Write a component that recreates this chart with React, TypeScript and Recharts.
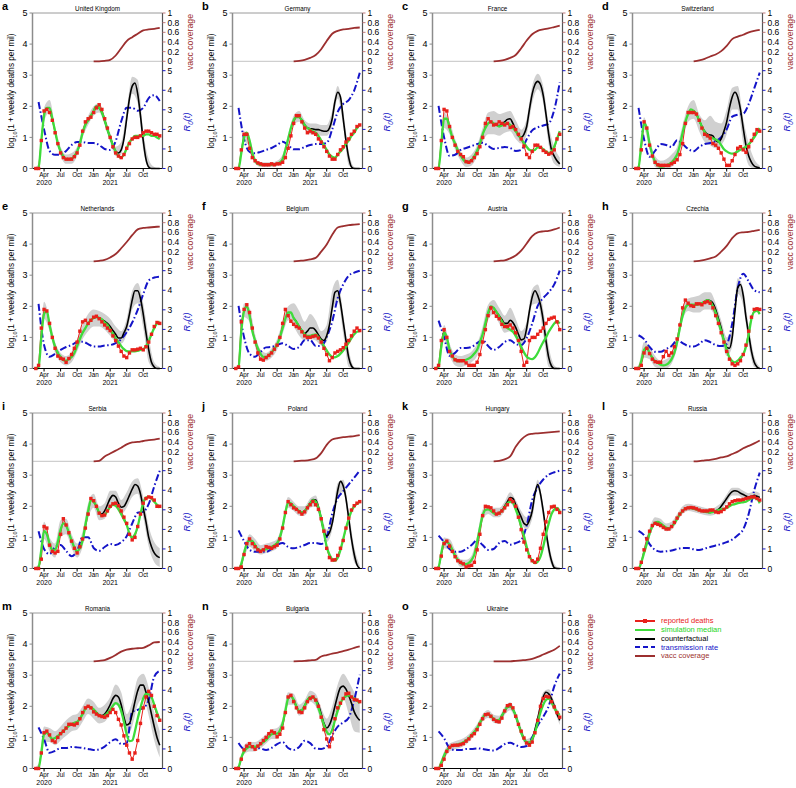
import {
  ComposedChart,
  Line,
  Area,
  XAxis,
  YAxis,
  ReferenceLine,
} from 'recharts';

const FONT = '"Liberation Sans", Arial, Helvetica, sans-serif';
const RED = '#e8211b';
const GREEN = '#3ddc3a';
const BLUE = '#1414c8';
const BROWN = '#9c2f2f';
const BAND = '#d0d0d0';

// x positions, in months since 1 Jan 2020
const HALF_X = [1.5, 2, 2.5, 3, 3.5, 4, 4.5, 5, 5.5, 6, 6.5, 7, 7.5, 8, 8.5, 9, 9.5, 10, 10.5, 11, 11.5, 12, 12.5, 13, 13.5, 14, 14.5, 15, 15.5, 16, 16.5, 17, 17.5, 18, 18.5, 19, 19.5, 20, 20.5, 21, 21.5, 22, 22.5, 23, 23.5, 24];
const MONTH_X = [1, 2, 3, 4, 5, 6, 7, 8, 9, 10, 11, 12, 13, 14, 15, 16, 17, 18, 19, 20, 21, 22, 23, 24];
const R0_X = [2, 3, 4, 5, 6, 7, 8, 9, 10, 11, 12, 13, 14, 15, 16, 17, 18, 19, 20, 21, 22, 23, 24];
const CF_X = [12, 12.5, 13, 13.5, 14, 14.5, 15, 15.5, 16, 16.5, 17, 17.5, 18, 18.5, 19, 19.5, 20, 20.5, 21, 21.5, 22, 22.5, 23, 23.5, 24];
const VACC_X = [12, 13, 14, 15, 16, 17, 18, 19, 20, 21, 22, 23, 24];

const MONTH_TICKS = [3, 6, 9, 12, 15, 18, 21];
const MONTH_LABELS = ['Apr', 'Jul', 'Oct', 'Jan', 'Apr', 'Jul', 'Oct'];
const YEAR_TICKS = [3, 15];
const YEAR_LABELS = ['2020', '2021'];
const DEATH_TICKS = [0, 1, 2, 3, 4, 5];
const R0_TICKS = [0, 1, 2, 3, 4, 5];
const VACC_TICKS = [0, 0.2, 0.4, 0.6, 0.8, 1];

// United Kingdom
const UK_DEATHS = [0, 0, 0.9, 1.85, 1.9, 1.8, 1.55, 1.15, 0.8, 0.5, 0.35, 0.3, 0.3, 0.3, 0.38, 0.5, 0.75, 1.2, 1.5, 1.6, 1.65, 1.8, 1.95, 2.05, 1.9, 1.6, 1.3, 1.0, 0.7, 0.5, 0.4, 0.35, 0.45, 0.65, 0.8, 0.95, 1.0, 1.0, 1.05, 1.15, 1.2, 1.2, 1.15, 1.1, 1.1, 1.05];
const UK_MEDIAN = [0, 0.02, 0.9, 1.7, 1.95, 1.95, 1.6, 1.2, 0.8, 0.55, 0.4, 0.3, 0.3, 0.32, 0.4, 0.55, 0.8, 1.15, 1.4, 1.55, 1.7, 1.85, 2.0, 1.95, 1.8, 1.55, 1.25, 1.0, 0.75, 0.55, 0.4, 0.35, 0.45, 0.65, 0.85, 0.95, 1.05, 1.05, 1.05, 1.05, 1.1, 1.1, 1.05, 1.05, 1.0, 0.95];
const UK_CF = [1.85, 2.0, 1.95, 1.8, 1.55, 1.25, 1.0, 0.75, 0.55, 0.5, 0.6, 0.95, 1.6, 2.25, 2.65, 2.75, 2.4, 1.7, 0.9, 0.3, 0.05, 0, 0, 0, 0];
const UK_LO = [0, 0, 1.5, 1.8, 1.05, 0.4, 0.15, 0.15, 0.4, 1.0, 1.4, 1.7, 1.8, 1.4, 0.85, 0.4, 0.45, 1.4, 2.4, 2.1, 0.6, 0, 0, 0];
const UK_HI = [0, 0.15, 1.95, 2.2, 1.35, 0.7, 0.45, 0.5, 0.7, 1.3, 1.7, 2.0, 2.1, 1.7, 1.15, 0.7, 0.85, 1.85, 2.95, 2.85, 1.2, 0.3, 0.05, 0];
const UK_R0 = [3.4, 2.0, 0.9, 0.7, 0.7, 0.9, 1.2, 1.35, 1.35, 1.3, 1.3, 1.2, 1.0, 0.95, 1.4, 2.4, 3.1, 3.1, 2.95, 3.1, 3.6, 3.75, 3.45];
const UK_VACC = [0, 0, 0.01, 0.03, 0.12, 0.27, 0.42, 0.5, 0.57, 0.64, 0.66, 0.67, 0.69];

// Germany
const DE_DEATHS = [0, 0, 0.6, 1.1, 1.1, 0.65, 0.35, 0.25, 0.18, 0.15, 0.12, 0.12, 0.12, 0.15, 0.12, 0.15, 0.15, 0.2, 0.35, 0.65, 1.05, 1.45, 1.7, 1.7, 1.5, 1.3, 1.15, 1.2, 1.15, 1.1, 0.95, 0.85, 0.7, 0.55, 0.4, 0.3, 0.3, 0.45, 0.6, 0.7, 0.85, 0.95, 1.1, 1.2, 1.35, 1.4];
const DE_MEDIAN = [0, 0, 0.5, 1.0, 1.15, 0.9, 0.5, 0.25, 0.15, 0.12, 0.12, 0.12, 0.12, 0.12, 0.13, 0.15, 0.2, 0.3, 0.6, 0.95, 1.3, 1.55, 1.65, 1.65, 1.55, 1.4, 1.3, 1.25, 1.2, 1.15, 1.05, 0.9, 0.75, 0.6, 0.45, 0.38, 0.35, 0.45, 0.55, 0.65, 0.8, 0.9, 1.05, 1.15, 1.3, 1.4];
const DE_CF = [1.55, 1.65, 1.65, 1.55, 1.4, 1.3, 1.28, 1.27, 1.25, 1.25, 1.22, 1.2, 1.2, 1.3, 1.6, 2.15, 2.45, 2.3, 1.6, 0.9, 0.35, 0.05, 0, 0, 0];
const DE_LO = [0, 0, 0.85, 0.7, 0.15, 0.05, 0.05, 0.05, 0.08, 0.2, 0.8, 1.4, 1.5, 1.25, 1.1, 1.1, 1.05, 1.05, 1.4, 2.25, 1.35, 0.1, 0, 0];
const DE_HI = [0, 0.05, 1.2, 1.0, 0.35, 0.2, 0.2, 0.2, 0.25, 0.45, 1.1, 1.7, 1.85, 1.55, 1.45, 1.45, 1.4, 1.4, 1.85, 2.65, 1.85, 0.55, 0.05, 0];
const DE_R0 = [3.1, 1.5, 0.85, 0.78, 0.85, 0.95, 1.05, 1.2, 1.37, 1.2, 0.98, 0.98, 1.1, 1.2, 1.25, 1.25, 1.3, 2.0, 2.9, 3.3, 3.5, 4.0, 4.9];
const DE_VACC = [0, 0.01, 0.03, 0.07, 0.13, 0.25, 0.42, 0.57, 0.63, 0.66, 0.67, 0.69, 0.7];

// France
const FR_DEATHS = [0, 0, 0.9, 1.9, 1.85, 1.35, 1.0, 0.75, 0.55, 0.45, 0.38, 0.22, 0.2, 0.25, 0.35, 0.48, 0.7, 1.0, 1.45, 1.6, 1.5, 1.4, 1.42, 1.5, 1.45, 1.4, 1.45, 1.32, 1.35, 1.25, 1.1, 0.95, 0.72, 0.45, 0.35, 0.55, 0.75, 0.75, 0.68, 0.58, 0.52, 0.46, 0.5, 0.6, 0.95, 1.1];
const FR_MEDIAN = [0, 0, 0.8, 1.6, 1.6, 1.3, 1.0, 0.8, 0.58, 0.42, 0.28, 0.2, 0.22, 0.28, 0.4, 0.57, 0.8, 1.1, 1.3, 1.45, 1.5, 1.45, 1.4, 1.35, 1.38, 1.45, 1.45, 1.4, 1.3, 1.2, 1.08, 0.95, 0.82, 0.7, 0.6, 0.58, 0.6, 0.68, 0.68, 0.62, 0.55, 0.5, 0.55, 0.7, 0.95, 1.2];
const FR_CF = [1.45, 1.4, 1.38, 1.42, 1.5, 1.58, 1.6, 1.45, 1.25, 1.05, 1.0, 1.1, 1.35, 1.9, 2.4, 2.7, 2.8, 2.7, 2.35, 1.75, 1.1, 0.6, 0.4, 0.25, 0.15];
const FR_LO = [0, 0, 1.3, 1.1, 0.6, 0.25, 0.05, 0.1, 0.4, 0.85, 1.1, 1.1, 1.05, 1.15, 1.2, 0.95, 0.8, 1.1, 2.1, 2.55, 2.1, 0.75, 0.15, 0.05];
const FR_HI = [0, 0.1, 1.8, 1.5, 0.95, 0.55, 0.35, 0.45, 0.75, 1.3, 1.8, 1.85, 1.75, 1.8, 1.85, 1.55, 1.25, 1.6, 2.65, 3.05, 2.65, 1.4, 0.7, 0.35];
const FR_R0 = [3.2, 1.6, 0.65, 0.7, 0.95, 1.05, 1.15, 1.25, 1.32, 1.15, 1.0, 1.05, 1.1, 1.05, 0.9, 0.95, 1.5, 1.95, 2.1, 2.2, 2.3, 3.0, 4.4];
const FR_VACC = [0, 0.01, 0.03, 0.07, 0.13, 0.27, 0.43, 0.56, 0.63, 0.66, 0.68, 0.71, 0.74];

// Switzerland
const CH_DEATHS = [0, 0, 0.6, 1.5, 1.3, 0.75, 0.4, 0.2, 0.12, 0.1, 0.1, 0.1, 0.1, 0.15, 0.2, 0.28, 0.45, 0.8, 1.45, 1.8, 1.8, 1.8, 1.75, 1.55, 1.3, 1.1, 1.05, 0.98, 0.8, 0.75, 0.65, 0.5, 0.3, 0.1, 0.1, 0.25, 0.45, 0.65, 0.7, 0.6, 0.52, 0.7, 0.9, 1.1, 1.25, 1.2];
const CH_MEDIAN = [0, 0.05, 0.8, 1.45, 1.3, 0.8, 0.45, 0.22, 0.1, 0.06, 0.07, 0.1, 0.14, 0.2, 0.3, 0.45, 0.75, 1.15, 1.5, 1.75, 1.9, 1.85, 1.75, 1.55, 1.35, 1.18, 1.05, 1.0, 0.97, 0.93, 0.88, 0.75, 0.62, 0.55, 0.5, 0.48, 0.5, 0.55, 0.6, 0.65, 0.7, 0.78, 0.88, 1.0, 1.15, 1.3];
const CH_CF = [1.85, 1.75, 1.55, 1.35, 1.2, 1.1, 1.08, 1.05, 0.9, 0.85, 0.95, 1.2, 1.5, 1.95, 2.3, 2.45, 2.3, 1.9, 1.3, 0.75, 0.4, 0.2, 0.08, 0.04, 0.02];
const CH_LO = [0, 0, 1.25, 0.6, 0.05, 0, 0, 0.05, 0.3, 0.9, 1.5, 1.6, 1.2, 0.85, 0.75, 0.65, 0.75, 1.1, 1.9, 1.9, 0.8, 0.1, 0, 0];
const CH_HI = [0, 0.1, 1.65, 0.95, 0.4, 0.25, 0.3, 0.45, 0.7, 1.4, 2.0, 2.2, 1.75, 1.55, 1.7, 1.5, 1.45, 1.9, 2.6, 2.65, 1.6, 0.8, 0.3, 0.1];
const CH_R0 = [3.1, 1.5, 0.6, 0.9, 1.25, 1.2, 1.1, 1.45, 1.25, 1.0, 0.88, 1.1, 1.25, 1.3, 1.4, 1.6, 2.0, 2.65, 2.75, 2.8, 3.3, 4.1, 4.9];
const CH_VACC = [0, 0.02, 0.05, 0.1, 0.14, 0.21, 0.32, 0.46, 0.51, 0.55, 0.6, 0.63, 0.65];

// Netherlands
const NL_DEATHS = [0, 0.1, 1.3, 1.9, 1.85, 1.45, 1.0, 0.65, 0.4, 0.33, 0.3, 0.2, 0.32, 0.45, 0.65, 0.85, 1.2, 1.5, 1.55, 1.45, 1.55, 1.65, 1.68, 1.6, 1.5, 1.4, 1.3, 1.22, 1.05, 0.9, 0.72, 0.55, 0.4, 0.35, 0.5, 0.6, 0.6, 0.62, 0.65, 0.6, 0.7, 0.85, 1.1, 1.35, 1.48, 1.45];
const NL_MEDIAN = [0, 0.02, 1.0, 1.75, 1.85, 1.4, 1.0, 0.7, 0.5, 0.38, 0.27, 0.25, 0.3, 0.37, 0.5, 0.72, 0.95, 1.15, 1.3, 1.45, 1.55, 1.62, 1.65, 1.63, 1.58, 1.48, 1.4, 1.25, 1.12, 0.98, 0.85, 0.72, 0.62, 0.56, 0.55, 0.55, 0.55, 0.57, 0.6, 0.62, 0.72, 0.88, 1.1, 1.3, 1.45, 1.5];
const NL_CF = [1.62, 1.65, 1.63, 1.58, 1.52, 1.45, 1.35, 1.22, 1.1, 0.98, 0.98, 1.15, 1.35, 1.75, 2.2, 2.5, 2.5, 2.25, 1.75, 1.15, 0.6, 0.2, 0.05, 0, 0];
const NL_LO = [0, 0, 1.6, 1.2, 0.5, 0.2, 0.1, 0.2, 0.55, 0.95, 1.2, 1.35, 1.35, 1.25, 1.05, 0.85, 0.8, 1.1, 1.9, 2.1, 1.3, 0.2, 0, 0];
const NL_HI = [0, 0.1, 2.15, 1.6, 0.85, 0.5, 0.4, 0.55, 0.95, 1.4, 1.75, 1.9, 1.85, 1.75, 1.6, 1.35, 1.2, 1.6, 2.5, 2.75, 2.1, 1.0, 0.2, 0.05];
const NL_R0 = [3.3, 1.2, 0.6, 0.75, 0.95, 1.1, 1.2, 1.35, 1.37, 1.25, 1.12, 1.12, 1.18, 1.2, 1.3, 1.5, 1.85, 2.35, 3.0, 3.8, 4.5, 4.65, 4.7];
const NL_VACC = [0, 0.01, 0.03, 0.08, 0.15, 0.27, 0.4, 0.54, 0.66, 0.69, 0.7, 0.71, 0.72];

// Belgium
const BE_DEATHS = [0, 0.05, 1.5, 1.9, 2.05, 1.8, 1.3, 0.85, 0.5, 0.3, 0.27, 0.35, 0.42, 0.5, 0.62, 0.75, 1.0, 1.45, 1.9, 1.7, 1.52, 1.42, 1.35, 1.3, 1.18, 1.05, 1.0, 1.0, 1.03, 1.05, 0.98, 0.85, 0.65, 0.45, 0.25, 0.35, 0.5, 0.55, 0.6, 0.67, 0.78, 0.9, 1.05, 1.2, 1.3, 1.22];
const BE_MEDIAN = [0, 0.05, 1.2, 1.85, 2.0, 1.7, 1.2, 0.9, 0.65, 0.47, 0.37, 0.37, 0.43, 0.52, 0.63, 0.78, 1.0, 1.3, 1.6, 1.8, 1.8, 1.62, 1.5, 1.35, 1.22, 1.1, 1.05, 1.05, 1.08, 1.1, 1.0, 0.88, 0.72, 0.58, 0.45, 0.37, 0.36, 0.4, 0.48, 0.58, 0.7, 0.83, 0.98, 1.1, 1.18, 1.2];
const BE_CF = [1.62, 1.5, 1.35, 1.22, 1.12, 1.2, 1.3, 1.3, 1.22, 1.08, 0.95, 0.9, 1.05, 1.4, 1.95, 2.45, 2.5, 2.1, 1.5, 0.9, 0.35, 0.08, 0, 0, 0];
const BE_LO = [0, 0, 1.65, 1.5, 0.7, 0.3, 0.25, 0.35, 0.6, 1.1, 1.55, 1.35, 1.05, 0.9, 0.95, 0.9, 0.75, 0.85, 1.8, 2.2, 1.1, 0.05, 0, 0];
const BE_HI = [0, 0.15, 2.1, 1.95, 1.1, 0.6, 0.5, 0.65, 0.95, 1.5, 2.0, 2.1, 1.85, 1.5, 1.75, 1.55, 1.2, 1.4, 2.5, 2.85, 1.75, 0.6, 0.05, 0];
const BE_R0 = [3.2, 1.6, 0.75, 0.6, 0.85, 1.08, 1.1, 1.2, 1.29, 1.15, 1.0, 1.1, 1.45, 1.45, 1.15, 1.15, 1.6, 2.4, 3.6, 4.3, 4.75, 4.9, 5.0];
const BE_VACC = [0, 0.01, 0.02, 0.04, 0.07, 0.2, 0.35, 0.55, 0.7, 0.73, 0.75, 0.76, 0.77];

// Austria
const AT_DEATHS = [0, 0.1, 0.9, 1.25, 1.0, 0.55, 0.4, 0.28, 0.25, 0.25, 0.25, 0.18, 0.1, 0.1, 0.1, 0.2, 0.45, 0.85, 1.25, 1.7, 1.95, 1.8, 1.68, 1.6, 1.42, 1.35, 1.35, 1.4, 1.3, 1.15, 0.9, 0.55, 0.1, 0.2, 0.9, 1.0, 1.0, 1.1, 1.2, 1.3, 1.45, 1.58, 1.62, 1.65, 1.5, 1.25];
const AT_MEDIAN = [0, 0.05, 0.7, 1.15, 1.0, 0.6, 0.4, 0.28, 0.24, 0.24, 0.25, 0.28, 0.32, 0.38, 0.48, 0.6, 0.85, 1.1, 1.45, 1.8, 2.0, 1.95, 1.82, 1.68, 1.52, 1.38, 1.3, 1.25, 1.18, 1.05, 0.88, 0.7, 0.52, 0.38, 0.32, 0.3, 0.36, 0.5, 0.68, 0.85, 1.0, 1.18, 1.32, 1.45, 1.52, 1.45];
const AT_CF = [1.95, 1.82, 1.7, 1.58, 1.45, 1.45, 1.55, 1.48, 1.32, 1.1, 0.92, 0.95, 1.3, 1.85, 2.3, 2.5, 2.35, 2.05, 1.55, 0.9, 0.35, 0.08, 0, 0, 0];
const AT_LO = [0, 0, 0.9, 0.4, 0.1, 0.05, 0.1, 0.2, 0.4, 0.9, 1.55, 1.75, 1.45, 1.15, 1.2, 1.05, 0.7, 1.0, 2.05, 2.1, 1.1, 0.05, 0, 0];
const AT_HI = [0, 0.15, 1.4, 0.8, 0.45, 0.4, 0.45, 0.55, 0.8, 1.35, 2.05, 2.2, 1.95, 1.7, 1.95, 1.6, 1.2, 1.5, 2.55, 2.7, 1.9, 0.7, 0.1, 0];
const AT_R0 = [2.45, 1.6, 0.65, 0.8, 1.05, 1.05, 1.1, 1.3, 1.45, 1.15, 0.95, 1.1, 1.35, 1.45, 1.25, 1.2, 1.55, 2.3, 3.2, 3.6, 3.9, 4.3, 5.0];
const AT_VACC = [0, 0.01, 0.02, 0.06, 0.12, 0.22, 0.37, 0.52, 0.6, 0.62, 0.63, 0.66, 0.7];

// Czechia
const CZ_DEATHS = [0, 0, 0.1, 0.5, 0.65, 0.48, 0.3, 0.22, 0.2, 0.2, 0.38, 0.55, 0.42, 0.5, 0.7, 0.95, 1.4, 1.95, 2.2, 2.1, 2.02, 2.0, 2.08, 2.08, 2.05, 2.12, 2.15, 2.1, 1.95, 1.7, 1.45, 1.15, 0.85, 0.55, 0.3, 0.15, 0.1, 0.15, 0.25, 0.45, 0.75, 1.2, 1.65, 1.9, 1.92, 1.9];
const CZ_MEDIAN = [0, 0.02, 0.25, 0.6, 0.68, 0.5, 0.35, 0.24, 0.18, 0.12, 0.1, 0.12, 0.18, 0.3, 0.5, 0.85, 1.3, 1.7, 1.95, 2.05, 2.05, 2.05, 2.05, 2.07, 2.1, 2.15, 2.2, 2.15, 2.0, 1.8, 1.5, 1.2, 0.9, 0.6, 0.35, 0.24, 0.2, 0.25, 0.35, 0.45, 0.7, 1.1, 1.6, 1.82, 1.85, 1.75];
const CZ_CF = [2.05, 2.05, 2.07, 2.1, 2.15, 2.2, 2.18, 2.1, 1.9, 1.6, 1.3, 0.9, 0.68, 0.65, 1.0, 1.85, 2.6, 2.7, 2.35, 1.65, 1.1, 0.55, 0.2, 0.05, 0];
const CZ_LO = [0, 0, 0.35, 0.3, 0.05, 0, 0, 0.15, 0.65, 1.55, 1.85, 1.8, 1.8, 1.9, 1.9, 1.6, 1.0, 0.4, 0.7, 2.4, 2.0, 0.75, 0.05, 0];
const CZ_HI = [0, 0.1, 0.85, 0.7, 0.4, 0.25, 0.3, 0.45, 1.05, 1.95, 2.25, 2.3, 2.35, 2.45, 2.45, 2.1, 1.55, 1.0, 1.3, 2.9, 2.55, 1.35, 0.4, 0.05];
const CZ_R0 = [1.7, 1.5, 1.1, 0.85, 0.85, 1.0, 1.15, 1.45, 1.3, 1.15, 1.12, 1.25, 1.45, 1.35, 1.2, 1.15, 1.25, 2.3, 4.1, 4.85, 4.45, 4.0, 3.9];
const CZ_VACC = [0, 0.01, 0.03, 0.06, 0.1, 0.2, 0.32, 0.48, 0.58, 0.6, 0.61, 0.63, 0.65];

// Serbia
const RS_DEATHS = [0, 0, 0.3, 1.35, 1.3, 0.75, 0.55, 0.5, 0.55, 1.1, 1.6, 1.4, 1.15, 0.88, 0.65, 0.5, 0.7, 0.95, 1.3, 1.75, 2.25, 2.18, 2.0, 1.78, 1.7, 1.72, 1.85, 2.0, 2.08, 2.1, 2.02, 1.85, 1.65, 1.45, 1.1, 0.92, 1.0, 1.35, 1.75, 2.1, 2.25, 2.3, 2.28, 2.2, 2.0, 2.0];
const RS_MEDIAN = [0, 0.05, 0.6, 1.2, 1.1, 0.8, 0.6, 0.6, 0.85, 1.25, 1.45, 1.38, 1.15, 0.9, 0.68, 0.56, 0.65, 0.9, 1.4, 1.85, 2.2, 2.15, 2.0, 1.8, 1.7, 1.72, 1.85, 1.98, 2.05, 2.02, 1.9, 1.75, 1.58, 1.4, 1.12, 1.0, 1.1, 1.35, 1.75, 2.1, 2.28, 2.3, 2.25, 2.15, 2.05, 1.95];
const RS_CF = [2.15, 2.0, 1.8, 1.75, 1.85, 2.05, 2.25, 2.35, 2.3, 2.1, 1.97, 2.0, 2.15, 2.35, 2.55, 2.7, 2.65, 2.4, 1.95, 1.5, 1.0, 0.7, 0.5, 0.4, 0.35];
const RS_LO = [0, 0, 0.95, 0.55, 0.35, 1.0, 1.1, 0.65, 0.35, 0.7, 1.6, 1.95, 1.55, 1.6, 2.05, 2.05, 1.75, 1.95, 2.3, 2.4, 1.65, 0.7, 0.2, 0.05];
const RS_HI = [0, 0.15, 1.5, 1.0, 0.8, 1.55, 1.6, 1.1, 0.8, 1.2, 2.1, 2.4, 2.0, 2.1, 2.5, 2.5, 2.2, 2.45, 2.8, 2.9, 2.3, 1.35, 0.85, 0.65];
const RS_R0 = [1.9, 1.0, 0.74, 1.1, 1.2, 0.9, 0.63, 0.9, 1.6, 1.6, 1.05, 0.9, 1.1, 1.25, 1.2, 1.35, 1.65, 2.3, 2.85, 2.9, 3.3, 4.2, 5.0];
const RS_VACC = [0, 0.01, 0.1, 0.16, 0.22, 0.28, 0.35, 0.39, 0.4, 0.42, 0.44, 0.45, 0.47];

// Poland
const PL_DEATHS = [0, 0, 0.05, 0.45, 0.8, 0.95, 0.8, 0.7, 0.6, 0.55, 0.6, 0.7, 0.68, 0.65, 0.7, 0.75, 0.95, 1.3, 1.8, 2.15, 2.05, 1.95, 1.9, 1.82, 1.75, 1.82, 1.95, 2.05, 2.15, 2.05, 1.9, 1.6, 1.2, 0.65, 0.35, 0.27, 0.28, 0.42, 0.65, 0.9, 1.3, 1.62, 1.88, 2.02, 2.1, 2.15];
const PL_MEDIAN = [0, 0, 0.15, 0.5, 0.8, 0.9, 0.88, 0.75, 0.62, 0.58, 0.6, 0.62, 0.66, 0.7, 0.75, 0.82, 1.0, 1.35, 1.8, 2.12, 2.1, 2.0, 1.92, 1.85, 1.8, 1.85, 1.97, 2.1, 2.2, 2.15, 1.95, 1.6, 1.15, 0.7, 0.45, 0.3, 0.25, 0.35, 0.6, 0.95, 1.3, 1.6, 1.85, 2.0, 2.08, 2.15];
const PL_CF = [2.0, 1.92, 1.85, 1.8, 1.85, 1.97, 2.1, 2.22, 2.2, 1.98, 1.6, 1.2, 1.05, 1.15, 1.45, 1.95, 2.5, 2.8, 2.65, 2.25, 1.6, 0.95, 0.45, 0.12, 0];
const PL_LO = [0, 0, 0.35, 0.7, 0.55, 0.45, 0.5, 0.55, 0.65, 1.15, 1.95, 1.85, 1.7, 1.7, 1.95, 2.0, 1.4, 0.85, 1.25, 2.35, 2.45, 1.35, 0.2, 0];
const PL_HI = [0, 0.05, 0.65, 1.1, 0.95, 0.75, 0.8, 0.85, 0.95, 1.5, 2.3, 2.15, 2.0, 2.0, 2.25, 2.35, 1.75, 1.25, 1.65, 2.75, 2.85, 1.85, 0.7, 0.1];
const PL_R0 = [1.95, 1.4, 0.95, 0.85, 0.85, 0.85, 1.0, 1.2, 1.3, 1.1, 1.03, 1.1, 1.2, 1.3, 1.3, 1.25, 1.6, 2.8, 3.6, 3.95, 4.3, 4.65, 5.0];
const PL_VACC = [0, 0.01, 0.015, 0.03, 0.06, 0.17, 0.34, 0.45, 0.48, 0.5, 0.51, 0.52, 0.54];

// Hungary
const HU_DEATHS = [0, 0, 0.4, 0.8, 0.88, 0.72, 0.55, 0.38, 0.25, 0.2, 0.15, 0.05, 0.08, 0.1, 0.2, 0.6, 1.1, 1.7, 2.0, 1.98, 1.95, 1.85, 1.75, 1.78, 1.85, 1.95, 2.05, 2.22, 2.15, 2.0, 1.65, 1.25, 0.85, 0.6, 0.38, 0.25, 0.2, 0.3, 0.65, 1.1, 1.5, 1.8, 1.98, 2.0, 1.9, 1.8];
const HU_MEDIAN = [0, 0.05, 0.5, 0.85, 0.85, 0.78, 0.6, 0.42, 0.28, 0.17, 0.14, 0.14, 0.18, 0.28, 0.45, 0.85, 1.3, 1.7, 1.88, 1.9, 1.85, 1.78, 1.75, 1.78, 1.85, 1.97, 2.1, 2.15, 2.12, 1.9, 1.65, 1.35, 1.05, 0.7, 0.4, 0.25, 0.17, 0.22, 0.38, 0.7, 1.1, 1.45, 1.75, 1.9, 1.95, 1.85];
const HU_CF = [1.78, 1.75, 1.78, 1.87, 2.0, 2.15, 2.28, 2.25, 2.05, 1.85, 1.65, 1.45, 1.4, 1.55, 1.85, 2.4, 2.7, 2.4, 1.85, 1.2, 0.65, 0.25, 0.03, 0, 0];
const HU_LO = [0, 0, 0.65, 0.6, 0.3, 0.05, 0.03, 0.15, 0.7, 1.55, 1.75, 1.65, 1.65, 1.85, 2.1, 1.85, 1.45, 1.25, 1.6, 2.55, 1.6, 0.4, 0, 0];
const HU_HI = [0, 0.1, 1.0, 0.95, 0.6, 0.3, 0.28, 0.42, 1.05, 1.9, 2.05, 1.95, 1.95, 2.15, 2.45, 2.2, 1.85, 1.65, 2.0, 2.85, 2.0, 0.85, 0.15, 0];
const HU_R0 = [1.68, 1.35, 1.0, 0.86, 0.86, 1.0, 1.2, 1.45, 1.2, 0.95, 1.0, 1.3, 1.4, 1.22, 1.3, 1.45, 2.2, 3.5, 4.15, 4.55, 4.8, 4.92, 5.0];
const HU_VACC = [0, 0.01, 0.04, 0.1, 0.3, 0.45, 0.54, 0.57, 0.58, 0.59, 0.6, 0.61, 0.62];

// Russia
const RU_DEATHS = [0, 0, 0.2, 0.6, 0.95, 1.2, 1.38, 1.45, 1.42, 1.38, 1.32, 1.27, 1.27, 1.35, 1.48, 1.62, 1.75, 1.85, 1.92, 1.95, 1.96, 1.95, 1.92, 1.88, 1.85, 1.85, 1.85, 1.88, 1.88, 1.82, 1.8, 1.83, 1.9, 1.98, 2.08, 2.15, 2.18, 2.2, 2.2, 2.22, 2.25, 2.27, 2.3, 2.3, 2.25, 2.2];
const RU_MEDIAN = [0, 0, 0.2, 0.5, 0.8, 1.12, 1.35, 1.48, 1.5, 1.45, 1.38, 1.32, 1.3, 1.35, 1.45, 1.6, 1.75, 1.85, 1.92, 1.95, 1.94, 1.92, 1.9, 1.87, 1.85, 1.83, 1.81, 1.8, 1.82, 1.85, 1.88, 1.9, 1.92, 1.95, 2.0, 2.05, 2.07, 2.1, 2.12, 2.13, 2.15, 2.2, 2.25, 2.28, 2.25, 2.1];
const RU_CF = [1.92, 1.9, 1.87, 1.85, 1.83, 1.81, 1.8, 1.82, 1.85, 1.9, 2.0, 2.12, 2.25, 2.38, 2.47, 2.5, 2.48, 2.42, 2.38, 2.33, 2.3, 2.32, 2.35, 2.32, 2.28];
const RU_LO = [0, 0, 0.4, 1.0, 1.4, 1.35, 1.2, 1.25, 1.5, 1.75, 1.85, 1.82, 1.77, 1.72, 1.7, 1.75, 1.88, 2.12, 2.35, 2.35, 2.25, 2.18, 2.22, 2.15];
const RU_HI = [0, 0.05, 0.7, 1.3, 1.65, 1.6, 1.45, 1.5, 1.75, 2.0, 2.08, 2.05, 2.0, 1.95, 1.92, 1.98, 2.12, 2.38, 2.6, 2.6, 2.5, 2.42, 2.48, 2.42];
const RU_R0 = [1.92, 1.7, 1.25, 0.95, 0.86, 0.88, 0.92, 1.0, 1.05, 1.05, 0.98, 0.95, 1.02, 1.1, 1.18, 1.25, 1.35, 1.48, 1.7, 2.0, 2.8, 4.0, 4.9];
const RU_VACC = [0, 0.005, 0.02, 0.03, 0.05, 0.08, 0.1, 0.15, 0.2, 0.27, 0.32, 0.37, 0.43];

// Romania
const RO_DEATHS = [0, 0, 0.5, 1.15, 1.2, 1.08, 0.9, 0.85, 1.0, 1.12, 1.2, 1.3, 1.42, 1.42, 1.4, 1.45, 1.6, 1.8, 1.95, 2.0, 1.95, 1.82, 1.75, 1.7, 1.67, 1.65, 1.7, 1.8, 1.9, 1.8, 1.58, 1.4, 1.05, 0.75, 0.5, 0.3, 0.5, 0.9, 1.45, 1.95, 2.3, 2.48, 2.35, 2.0, 1.7, 1.55];
const RO_MEDIAN = [0, 0.02, 0.5, 1.1, 1.15, 1.05, 0.95, 0.98, 1.05, 1.12, 1.2, 1.3, 1.37, 1.43, 1.47, 1.5, 1.6, 1.75, 1.92, 2.0, 1.97, 1.9, 1.8, 1.72, 1.68, 1.7, 1.78, 1.88, 2.02, 2.1, 2.05, 1.85, 1.5, 1.1, 0.88, 0.9, 1.2, 1.6, 1.95, 2.25, 2.4, 2.38, 2.3, 2.05, 1.8, 1.55];
const RO_CF = [1.9, 1.8, 1.72, 1.7, 1.75, 1.88, 2.05, 2.25, 2.35, 2.3, 2.05, 1.65, 1.4, 1.45, 1.75, 2.15, 2.5, 2.68, 2.68, 2.45, 2.15, 1.75, 1.35, 1.0, 0.75];
const RO_LO = [0, 0, 0.85, 0.85, 0.75, 0.9, 1.05, 1.2, 1.25, 1.5, 1.75, 1.6, 1.45, 1.5, 1.75, 2.05, 1.75, 1.05, 1.35, 2.05, 2.25, 1.7, 0.9, 0.35];
const RO_HI = [0, 0.15, 1.35, 1.3, 1.2, 1.35, 1.55, 1.7, 1.75, 2.0, 2.25, 2.15, 1.95, 2.05, 2.3, 2.7, 2.45, 1.75, 2.15, 2.9, 3.05, 2.6, 1.8, 1.2];
const RO_R0 = [2.1, 1.5, 0.8, 0.9, 1.05, 1.05, 1.1, 1.08, 1.05, 1.0, 0.95, 0.98, 1.12, 1.35, 1.5, 1.25, 1.3, 2.9, 3.0, 3.1, 3.5, 4.7, 5.0];
const RO_VACC = [0, 0.01, 0.025, 0.07, 0.13, 0.2, 0.24, 0.26, 0.27, 0.28, 0.33, 0.39, 0.4];

// Bulgaria
const BG_DEATHS = [0, 0, 0.3, 0.6, 0.72, 0.8, 0.7, 0.62, 0.72, 0.8, 0.9, 1.0, 1.12, 1.2, 1.15, 1.02, 1.1, 1.3, 1.8, 2.3, 2.35, 2.15, 1.95, 1.82, 1.8, 1.95, 2.15, 2.25, 2.3, 2.2, 2.0, 1.65, 1.25, 0.95, 0.7, 0.95, 1.6, 1.95, 2.1, 2.25, 2.4, 2.42, 2.3, 2.22, 2.2, 2.15];
const BG_MEDIAN = [0, 0.05, 0.35, 0.55, 0.65, 0.7, 0.7, 0.7, 0.72, 0.78, 0.85, 0.92, 1.02, 1.1, 1.12, 1.12, 1.22, 1.45, 1.85, 2.25, 2.33, 2.22, 2.0, 1.85, 1.88, 2.02, 2.2, 2.3, 2.28, 2.2, 1.95, 1.68, 1.4, 1.18, 1.1, 1.25, 1.55, 1.85, 2.1, 2.25, 2.32, 2.35, 2.3, 2.25, 2.18, 2.1];
const BG_CF = [2.22, 2.0, 1.85, 1.88, 2.02, 2.2, 2.3, 2.3, 2.22, 2.05, 1.75, 1.45, 1.3, 1.4, 1.65, 2.0, 2.35, 2.6, 2.65, 2.55, 2.35, 2.1, 1.82, 1.65, 1.55];
const BG_LO = [0, 0, 0.45, 0.55, 0.55, 0.65, 0.8, 0.95, 0.95, 1.3, 2.05, 2.05, 1.7, 1.85, 2.15, 2.0, 1.5, 1.05, 1.4, 2.0, 2.25, 1.75, 1.2, 1.15];
const BG_HI = [0, 0.1, 0.75, 0.85, 0.85, 0.95, 1.1, 1.25, 1.3, 1.6, 2.45, 2.4, 2.05, 2.2, 2.5, 2.4, 1.95, 1.6, 2.0, 2.7, 3.05, 2.8, 2.45, 2.1];
const BG_R0 = [1.3, 1.0, 1.1, 1.08, 1.02, 0.95, 1.05, 1.25, 1.35, 1.05, 0.95, 1.1, 1.42, 1.3, 1.02, 1.0, 1.12, 1.7, 2.14, 2.35, 2.6, 3.5, 4.8];
const BG_VACC = [0, 0.003, 0.01, 0.02, 0.03, 0.1, 0.13, 0.16, 0.18, 0.21, 0.24, 0.28, 0.31];

// Ukraine
const UA_DEATHS = [0, 0, 0.1, 0.3, 0.55, 0.68, 0.74, 0.75, 0.75, 0.77, 0.8, 0.88, 0.95, 1.05, 1.12, 1.25, 1.42, 1.6, 1.73, 1.75, 1.68, 1.58, 1.52, 1.5, 1.62, 1.85, 2.02, 2.05, 1.95, 1.68, 1.42, 1.2, 0.98, 0.82, 0.75, 0.85, 1.15, 1.55, 2.0, 2.25, 2.32, 2.3, 2.15, 1.98, 1.8, 1.65];
const UA_MEDIAN = [0, 0, 0.2, 0.42, 0.58, 0.68, 0.73, 0.75, 0.78, 0.8, 0.84, 0.9, 0.98, 1.08, 1.18, 1.3, 1.48, 1.62, 1.75, 1.74, 1.68, 1.6, 1.55, 1.56, 1.7, 1.85, 1.98, 2.0, 1.9, 1.7, 1.42, 1.15, 0.95, 0.85, 0.84, 0.95, 1.15, 1.48, 1.8, 2.05, 2.2, 2.25, 2.12, 1.95, 1.82, 1.72];
const UA_CF = [1.6, 1.55, 1.56, 1.7, 1.85, 1.98, 2.0, 1.9, 1.7, 1.42, 1.18, 0.95, 0.82, 0.8, 0.92, 1.25, 1.6, 2.0, 2.3, 2.45, 2.4, 2.25, 2.0, 1.75, 1.55];
const UA_LO = [0, 0, 0.3, 0.55, 0.62, 0.67, 0.77, 0.95, 1.18, 1.5, 1.62, 1.47, 1.43, 1.72, 1.87, 1.55, 1.05, 0.7, 0.8, 1.45, 2.15, 2.25, 1.85, 1.4];
const UA_HI = [0, 0.05, 0.55, 0.8, 0.88, 0.93, 1.03, 1.2, 1.43, 1.75, 1.88, 1.73, 1.7, 1.98, 2.13, 1.82, 1.32, 0.95, 1.05, 1.75, 2.45, 2.55, 2.15, 1.7];
const UA_R0 = [1.9, 1.55, 1.05, 0.94, 0.94, 1.0, 1.0, 1.03, 1.0, 0.95, 0.92, 1.05, 1.25, 1.32, 1.2, 1.1, 1.15, 1.6, 2.2, 2.65, 3.2, 4.2, 4.85];
const UA_VACC = [0, 0, 0, 0, 0.01, 0.02, 0.03, 0.05, 0.09, 0.14, 0.19, 0.24, 0.32];

const PANELS = [
  { letter: 'a', name: 'United Kingdom', deaths: UK_DEATHS, median: UK_MEDIAN, cf: UK_CF, lo: UK_LO, hi: UK_HI, r0: UK_R0, vacc: UK_VACC },
  { letter: 'b', name: 'Germany', deaths: DE_DEATHS, median: DE_MEDIAN, cf: DE_CF, lo: DE_LO, hi: DE_HI, r0: DE_R0, vacc: DE_VACC },
  { letter: 'c', name: 'France', deaths: FR_DEATHS, median: FR_MEDIAN, cf: FR_CF, lo: FR_LO, hi: FR_HI, r0: FR_R0, vacc: FR_VACC },
  { letter: 'd', name: 'Switzerland', deaths: CH_DEATHS, median: CH_MEDIAN, cf: CH_CF, lo: CH_LO, hi: CH_HI, r0: CH_R0, vacc: CH_VACC },
  { letter: 'e', name: 'Netherlands', deaths: NL_DEATHS, median: NL_MEDIAN, cf: NL_CF, lo: NL_LO, hi: NL_HI, r0: NL_R0, vacc: NL_VACC },
  { letter: 'f', name: 'Belgium', deaths: BE_DEATHS, median: BE_MEDIAN, cf: BE_CF, lo: BE_LO, hi: BE_HI, r0: BE_R0, vacc: BE_VACC },
  { letter: 'g', name: 'Austria', deaths: AT_DEATHS, median: AT_MEDIAN, cf: AT_CF, lo: AT_LO, hi: AT_HI, r0: AT_R0, vacc: AT_VACC },
  { letter: 'h', name: 'Czechia', deaths: CZ_DEATHS, median: CZ_MEDIAN, cf: CZ_CF, lo: CZ_LO, hi: CZ_HI, r0: CZ_R0, vacc: CZ_VACC },
  { letter: 'i', name: 'Serbia', deaths: RS_DEATHS, median: RS_MEDIAN, cf: RS_CF, lo: RS_LO, hi: RS_HI, r0: RS_R0, vacc: RS_VACC },
  { letter: 'j', name: 'Poland', deaths: PL_DEATHS, median: PL_MEDIAN, cf: PL_CF, lo: PL_LO, hi: PL_HI, r0: PL_R0, vacc: PL_VACC },
  { letter: 'k', name: 'Hungary', deaths: HU_DEATHS, median: HU_MEDIAN, cf: HU_CF, lo: HU_LO, hi: HU_HI, r0: HU_R0, vacc: HU_VACC },
  { letter: 'l', name: 'Russia', deaths: RU_DEATHS, median: RU_MEDIAN, cf: RU_CF, lo: RU_LO, hi: RU_HI, r0: RU_R0, vacc: RU_VACC },
  { letter: 'm', name: 'Romania', deaths: RO_DEATHS, median: RO_MEDIAN, cf: RO_CF, lo: RO_LO, hi: RO_HI, r0: RO_R0, vacc: RO_VACC },
  { letter: 'n', name: 'Bulgaria', deaths: BG_DEATHS, median: BG_MEDIAN, cf: BG_CF, lo: BG_LO, hi: BG_HI, r0: BG_R0, vacc: BG_VACC },
  { letter: 'o', name: 'Ukraine', deaths: UA_DEATHS, median: UA_MEDIAN, cf: UA_CF, lo: UA_LO, hi: UA_HI, r0: UA_R0, vacc: UA_VACC },
];

const toRows = (xs: number[], ys: number[]) => xs.map((x, i) => ({ x, y: ys[i] }));

const renderSquare = (props: any) => {
  const { cx, cy, index } = props;
  if (cx == null || cy == null) return <g key={`sq-${index}`} />;
  return (
    <rect
      key={`sq-${index}`}
      x={cx - 1.7}
      y={cy - 1.7}
      width={3.4}
      height={3.4}
      fill={RED}
    />
  );
};

const renderMonthTick = (props: any) => {
  const { x, payload } = props;
  const i = MONTH_TICKS.indexOf(payload.value);
  const y = YEAR_TICKS.indexOf(payload.value);
  return (
    <g>
      <text x={x} y={177.4} textAnchor='middle' fontSize={6.3} fontFamily={FONT} fill='#000'>
        {MONTH_LABELS[i]}
      </text>
      {y >= 0 && (
        <text x={x} y={185.4} textAnchor='middle' fontSize={7} fontFamily={FONT} fill='#000'>
          {YEAR_LABELS[y]}
        </text>
      )}
    </g>
  );
};

const rotated = (left: number, top: number): React.CSSProperties => ({
  position: 'absolute',
  left,
  top,
  transform: 'translate(-50%, -50%) rotate(-90deg)',
  whiteSpace: 'nowrap',
  lineHeight: 1,
});

const Panel = ({ panel, index }: { panel: any; index: number }) => {
  const col = index % 4;
  const row = Math.floor(index / 4);
  const bandRows = MONTH_X.map((x, i) => ({ x, band: [panel.lo[i], panel.hi[i]] }));

  return (
    <div style={{ position: 'absolute', left: col * 200, top: row * 200, width: 200, height: 200 }}>
      <ComposedChart
        width={200}
        height={200}
        data={bandRows}
        margin={{ top: 13, right: 37.48, bottom: 0, left: 0 }}
      >
        <XAxis
          dataKey='x'
          type='number'
          domain={[0.9, 24.5]}
          ticks={MONTH_TICKS}
          interval={0}
          tick={renderMonthTick}
          tickSize={3}
          height={31.5}
          axisLine={{ stroke: '#000' }}
          tickLine={{ stroke: '#000' }}
        />
        <YAxis
          yAxisId='L'
          domain={[0, 5]}
          ticks={DEATH_TICKS}
          interval={0}
          width={32.5}
          tickSize={3}
          tickMargin={2}
          tick={{ fontSize: 9, fill: '#000', fontFamily: FONT }}
          axisLine={{ stroke: '#8c8c8c', strokeWidth: 1.5 }}
          tickLine={{ stroke: '#8c8c8c' }}
        />
        {/* both right axes sit on the plot edge; width must be > 0 for recharts to draw them */}
        <YAxis
          yAxisId='R'
          orientation='right'
          domain={[0, 7.95]}
          ticks={R0_TICKS}
          interval={0}
          width={0.01}
          tickSize={3}
          tickMargin={2}
          tick={{ fontSize: 8.5, fill: '#000', fontFamily: FONT, textAnchor: 'start' }}
          axisLine={{ stroke: '#555', strokeWidth: 1.2 }}
          tickLine={{ stroke: BLUE }}
        />
        <YAxis
          yAxisId='V'
          orientation='right'
          domain={[-2.22, 1]}
          ticks={VACC_TICKS}
          interval={0}
          width={0.01}
          tickSize={3}
          tickMargin={2}
          tick={{ fontSize: 8.5, fill: '#000', fontFamily: FONT, textAnchor: 'start' }}
          axisLine={false}
          tickLine={{ stroke: '#c07a7a' }}
        />
        <ReferenceLine yAxisId='L' y={5} stroke='#9a9a9a' />
        <ReferenceLine yAxisId='V' y={0} stroke='#cfcfcf' strokeWidth={1.2} />
        <Area
          yAxisId='L'
          dataKey='band'
          type='monotone'
          fill={BAND}
          fillOpacity={1}
          stroke='none'
          isAnimationActive={false}
        />
        <Line
          data={toRows(R0_X, panel.r0)}
          dataKey='y'
          yAxisId='R'
          type='monotone'
          stroke={BLUE}
          strokeWidth={2}
          strokeDasharray='7 2.5 1.5 2.5'
          dot={false}
          activeDot={false}
          isAnimationActive={false}
        />
        <Line
          data={toRows(VACC_X, panel.vacc)}
          dataKey='y'
          yAxisId='V'
          type='monotone'
          stroke={BROWN}
          strokeWidth={1.8}
          dot={false}
          activeDot={false}
          isAnimationActive={false}
        />
        <Line
          data={toRows(CF_X, panel.cf)}
          dataKey='y'
          yAxisId='L'
          type='monotone'
          stroke='#000'
          strokeWidth={1.6}
          dot={false}
          activeDot={false}
          isAnimationActive={false}
        />
        <Line
          data={toRows(HALF_X, panel.deaths)}
          dataKey='y'
          yAxisId='L'
          type='linear'
          stroke={RED}
          strokeWidth={1}
          dot={renderSquare}
          activeDot={false}
          isAnimationActive={false}
        />
        <Line
          data={toRows(HALF_X, panel.median)}
          dataKey='y'
          yAxisId='L'
          type='monotone'
          stroke={GREEN}
          strokeWidth={2.3}
          dot={false}
          activeDot={false}
          isAnimationActive={false}
        />
      </ComposedChart>

      {/* panel letter, country, axis titles */}
      <div style={{ position: 'absolute', left: 2, top: 1, fontSize: 11, fontWeight: 'bold', lineHeight: '11px' }}>
        {panel.letter}
      </div>
      <div style={{ position: 'absolute', left: 97.5, top: 8.5, transform: 'translate(-50%, -50%)', fontSize: 6.3, whiteSpace: 'nowrap', lineHeight: 1 }}>
        {panel.name}
      </div>
      <div style={{ ...rotated(12.5, 90.7), fontSize: 8.2 }}>
        log<sub style={{ fontSize: 5.5 }}>10</sub>(1 + weekly deaths per mil)
      </div>
      <div style={{ ...rotated(189.5, 41.5), fontSize: 8.7, color: BROWN }}>vacc coverage</div>
      <div style={{ ...rotated(188.5, 122), fontSize: 9.2, color: BLUE, fontStyle: 'italic' }}>
        R<sub style={{ fontSize: 6.5 }}>0</sub>(t)
      </div>
    </div>
  );
};

const LEGEND = [
  { label: 'reported deaths', color: RED, line: RED, dash: undefined, marker: true },
  { label: 'simulation median', color: '#22d422', line: GREEN, dash: undefined, marker: false },
  { label: 'counterfactual', color: '#000', line: '#000', dash: undefined, marker: false },
  { label: 'transmission rate', color: BLUE, line: BLUE, dash: '5 3', marker: false },
  { label: 'vacc coverage', color: BROWN, line: BROWN, dash: undefined, marker: false },
];

const Legend = () => (
  <div style={{ position: 'absolute', left: 633, top: 616.6 }}>
    {LEGEND.map((item, i) => (
      <div key={i} style={{ display: 'flex', alignItems: 'center', height: 8.8 }}>
        <svg width={24} height={8}>
          <line x1={2} y1={4} x2={22} y2={4} stroke={item.line} strokeWidth={2} strokeDasharray={item.dash} />
          {item.marker && <rect x={10} y={2} width={4} height={4} fill={RED} />}
        </svg>
        <span style={{ color: item.color, fontSize: 7.5, marginLeft: 4, lineHeight: 1 }}>{item.label}</span>
      </div>
    ))}
  </div>
);

export default function App() {
  return (
    <div
      style={{
        position: 'absolute',
        left: 0,
        top: 0,
        width: 796,
        height: 788,
        background: '#fff',
        fontFamily: FONT,
        overflow: 'hidden',
      }}
    >
      {PANELS.map((p, i) => (
        <Panel key={p.letter} panel={p} index={i} />
      ))}
      <Legend />
    </div>
  );
}
